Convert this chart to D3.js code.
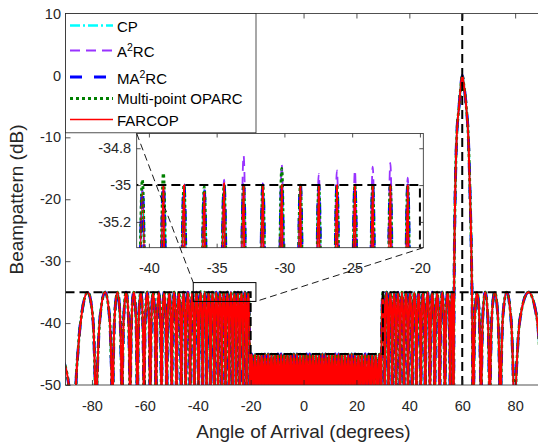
<!DOCTYPE html>
<html><head><meta charset="utf-8">
<script src="https://cdn.jsdelivr.net/npm/d3@7"></script>
<style>
body{margin:0;background:#fff;}
svg{display:block;font-family:"Liberation Sans",Arial,Helvetica,sans-serif;}
</style></head><body>
<svg id="c" width="538" height="445"></svg>
<script>
// ---------------- data ----------------
const mainXLim = [-90, 90];
const mainYLim = [-50, 10];
const xTicks = [-80, -60, -40, -20, 0, 20, 40, 60, 80];
const yTicks = [-50, -40, -30, -20, -10, 0, 10];
const insetXLim = [-40.9, -19.75];
const insetYLim = [-35.34, -34.72];
const insetXTicks = [-40, -35, -30, -25, -20];
const insetYTicks = [-35.2, -35, -34.8];

// angles (deg) of the pattern nulls, left to right
const lobeNulls = [-95, -87, -78.5,
  -72.24, -68.66, -65.58, -62.83, -60.31, -57.98, -55.79, -53.71, -51.74, -49.84,
  -48.02, -46.25, -44.55, -42.89, -41.28, -39.70, -38.17, -36.66, -35.18, -33.73,
  -32.30, -30.89, -29.51, -28.14, -26.79, -25.46, -24.14, -22.83, -21.54, -20.26,
  -18.99, -17.72, -16.47, -15.23, -13.99, -12.76, -11.53, -10.31, -9.10, -7.89,
  -6.68, -5.48, -4.28, -3.08, -1.88, -0.68, 0.52, 1.72, 2.91, 4.11,
  5.32, 6.52, 7.73, 8.94, 10.15, 11.37, 12.59, 13.83, 15.06, 16.31,
  17.56, 18.82, 20.09, 21.37, 22.66, 23.96, 25.28, 26.61, 27.96, 29.32,
  30.71, 32.11, 33.53, 34.98, 36.46, 37.96, 39.50, 41.07, 42.68, 44.33,
  46.03, 47.78, 49.59, 51.47, 53.44, 55.51,
  56.6, 64.2, 67.1, 70.4, 74.4, 79.7, 90.4];

// peak level (dB) of each lobe between consecutive nulls
const lobeLevels = [-46.3, -35, -35,
  -35, -35, -35, -35, -35, -35, -35, -35, -35, -35,
  -35, -35, -35, -35, -35, -35, -35, -35, -35, -35,
  -35, -35, -35, -35, -35, -35, -35, -35, -35,
  -45, -45, -45, -45, -45, -45, -45, -45, -45, -45,
  -45, -45, -45, -45, -45, -45, -45, -45, -45, -45,
  -45, -45, -45, -45, -45, -45, -45, -45, -45, -45,
  -45, -45, -45, -45, -45, -45, -45, -45, -45, -45,
  -35, -35, -35, -35, -35, -35, -35, -35, -35, -35,
  -35, -35, -35, -35, -35, -35, -35,
  0,
  -35, -35, -35, -35, -35];

// main lobe towards 60 deg
const mainlobeAngles = [56.8, 57.0, 57.3, 57.9, 58.8, 59.5, 60, 60.6, 61.5, 62.3, 63.0, 63.5, 63.9];
const mainlobeDb     = [-45, -30, -20, -10, -5, -1.5, 0, -1.5, -5, -10, -20, -30, -45];

// sidelobe peaks of each method inside the zoomed window (lobes from -41.28 deg on)
const insetLobeStart = -41.28;
const cpInsetPeaks     = [-35.03, -35.03, -35.03, -35.03, -35.03, -35.03, -35.03, -35.03, -35.03, -35.03, -35.03, -35.03, -35.03, -35.03, -35.03];
const a2rcInsetPeaks   = [-35.02, -35.02, -35.02, -35.02, -34.97, -34.84, -34.99, -34.89, -35.0, -34.94, -34.92, -34.92, -34.90, -34.88, -34.96];
const ma2rcInsetPeaks  = [-35.03, -35.0, -35.0, -35.03, -35.0, -35.0, -35.0, -35.0, -34.99, -35.0, -35.0, -35.0, -35.0, -35.0, -35.0];
const mpoparcInsetPeaks= [-34.97, -34.935, -35.0, -35.01, -35.0, -35.0, -35.0, -34.91, -35.0, -35.0, -35.0, -35.0, -35.0, -35.0, -35.0];
const farcopInsetPeaks = [-35.04, -35.0, -35.0, -35.04, -34.99, -35.0, -35.0, -35.0, -35.0, -35.0, -35.0, -35.0, -35.0, -35.0, -35.0];

// desired sidelobe mask and look direction
const maskAngles = [-90, -20, -20, 30, 30, 90];
const maskDb     = [-35, -35, -45, -45, -35, -35];
const lookAngle = 60;
const zoomBoxAngles = [-41.7, -18];
const zoomBoxDb = [-36.5, -33.46];

const legendLabels = ["CP", "A^{2}RC", "MA^{2}RC", "Multi-point OPARC", "FARCOP"];
const seriesInset = [cpInsetPeaks, a2rcInsetPeaks, ma2rcInsetPeaks, mpoparcInsetPeaks, farcopInsetPeaks];

// ---------------- styles ----------------
const seriesStyles = [
  {color: "#00ffff", dash: "10,3,2,3", width: 2.5},
  {color: "#9933ff", dash: "10,6", width: 1.8},
  {color: "#0000ff", dash: "12,12", width: 3},
  {color: "#008000", dash: "3,3", width: 2.8},
  {color: "#ff0000", dash: null, width: 2}
];
const PROFILE_U  = [0.04, 0.12, 0.25, 0.5, 0.75, 0.88, 0.96];
const PROFILE_DB = [-18, -8.7, -3, 0, -3, -8.7, -18];
const FLOOR = -90;
const axisColor = "#262626";

// ---------------- build series ----------------
const rad = Math.PI / 180;
function buildSeries(insetPeaks) {
  const pts = [];
  const i0 = lobeNulls.indexOf(insetLobeStart);
  for (let i = 0; i < lobeNulls.length; i++) {
    pts.push([lobeNulls[i], FLOOR]);
    if (i === lobeNulls.length - 1) break;
    const a = lobeNulls[i], b = lobeNulls[i + 1];
    let lvl = lobeLevels[i];
    if (i >= i0 && i < i0 + insetPeaks.length) lvl = insetPeaks[i - i0];
    if (lvl === 0) {
      mainlobeAngles.forEach((ang, k) => pts.push([ang, mainlobeDb[k]]));
      continue;
    }
    const useSin = a >= -90 && b <= 90;
    const sa = Math.sin(a * rad), sb = Math.sin(b * rad);
    PROFILE_U.forEach((u, k) => {
      const ang = useSin ? Math.asin(sa + u * (sb - sa)) / rad : a + u * (b - a);
      pts.push([ang, lvl + PROFILE_DB[k]]);
    });
  }
  return pts;
}
const seriesData = seriesInset.map(buildSeries);

// ---------------- drawing ----------------
const svg = d3.select("#c");
const M = {l: 65.5, t: 13.5, r: 541.6, b: 385};
const x = d3.scaleLinear().domain(mainXLim).range([M.l, M.r]);
const y = d3.scaleLinear().domain(mainYLim).range([M.b, M.t]);
const IN = {l: 136.7, t: 133.5, r: 423.3, b: 247.7};
const xi = d3.scaleLinear().domain(insetXLim).range([IN.l, IN.r]);
const yi = d3.scaleLinear().domain(insetYLim).range([IN.b, IN.t]);

const defs = svg.append("defs");
defs.append("clipPath").attr("id", "clipMain").append("rect")
  .attr("x", M.l).attr("y", M.t).attr("width", M.r - M.l).attr("height", M.b - M.t);
defs.append("clipPath").attr("id", "clipIn").append("rect")
  .attr("x", IN.l).attr("y", IN.t).attr("width", IN.r - IN.l).attr("height", IN.b - IN.t);

svg.append("rect").attr("width", 538).attr("height", 445).attr("fill", "#fff");

function drawSeries(g, xs, ys) {
  const line = d3.line().x(d => xs(d[0])).y(d => ys(d[1])).curve(d3.curveMonotoneX);
  seriesData.forEach((pts, i) => {
    const s = seriesStyles[i];
    const p = g.append("path").attr("d", line(pts)).attr("fill", "none")
      .attr("stroke", s.color).attr("stroke-width", s.width).attr("stroke-linejoin", "round");
    if (s.dash) p.attr("stroke-dasharray", s.dash);
  });
}
function drawMask(g, xs, ys, withLook) {
  const pts = maskAngles.map((a, i) => [a, maskDb[i]]);
  g.append("path").attr("d", d3.line().x(d => xs(d[0])).y(d => ys(d[1]))(pts))
    .attr("fill", "none").attr("stroke", "#000").attr("stroke-width", 2)
    .attr("stroke-dasharray", "9,5");
  if (withLook) {
    g.append("line").attr("x1", xs(lookAngle)).attr("x2", xs(lookAngle))
      .attr("y1", ys(mainYLim[0])).attr("y2", ys(mainYLim[1]))
      .attr("stroke", "#000").attr("stroke-width", 2).attr("stroke-dasharray", "9,5");
  }
}

// main plot
const gMain = svg.append("g").attr("clip-path", "url(#clipMain)");
drawSeries(gMain, x, y);
drawMask(gMain, x, y, true);

function styleAxis(g, fs) {
  g.select(".domain").remove();
  g.selectAll(".tick line").attr("stroke", axisColor).attr("stroke-width", 0.8);
  g.selectAll(".tick text").attr("fill", axisColor).style("font-size", fs + "px")
    .style("font-family", '"Liberation Sans",Arial,Helvetica,sans-serif');
}
const fmt = d => String(d);
styleAxis(svg.append("g").attr("transform", `translate(0,${M.b})`)
  .call(d3.axisBottom(x).tickValues(xTicks).tickFormat(fmt).tickSizeInner(-5).tickSizeOuter(0).tickPadding(15.5)), 14.5);
styleAxis(svg.append("g").attr("transform", `translate(0,${M.t})`)
  .call(d3.axisTop(x).tickValues(xTicks).tickFormat("").tickSizeInner(-5).tickSizeOuter(0)), 14.5);
styleAxis(svg.append("g").attr("transform", `translate(${M.l},0)`)
  .call(d3.axisLeft(y).tickValues(yTicks).tickFormat(fmt).tickSizeInner(-5).tickSizeOuter(0).tickPadding(4.5)), 14.5);
svg.append("rect").attr("x", M.l).attr("y", M.t).attr("width", M.r - M.l).attr("height", M.b - M.t)
  .attr("fill", "none").attr("stroke", axisColor).attr("stroke-width", 0.8);

svg.append("text").attr("x", 303.5).attr("y", 437.5).attr("text-anchor", "middle")
  .attr("fill", axisColor).style("font-size", "19px").text("Angle of Arrival (degrees)");
svg.append("text").attr("transform", "translate(23,199.5) rotate(-90)").attr("text-anchor", "middle")
  .attr("fill", axisColor).style("font-size", "19px").text("Beampattern (dB)");

// zoom box in main plot
svg.append("rect").attr("x", x(zoomBoxAngles[0])).attr("y", y(zoomBoxDb[1]))
  .attr("width", x(zoomBoxAngles[1]) - x(zoomBoxAngles[0]))
  .attr("height", y(zoomBoxDb[0]) - y(zoomBoxDb[1]))
  .attr("fill", "none").attr("stroke", "#000").attr("stroke-width", 1);

// legend
const lg = svg.append("g");
lg.append("rect").attr("x", 65.5).attr("y", 13.5).attr("width", 190.5).attr("height", 119.3)
  .attr("fill", "#fff").attr("stroke", axisColor).attr("stroke-width", 0.8);
const legLineY = [25.5, 50.5, 77, 98.5, 119.5];
const legTextY = [32.3, 57.3, 84, 104.2, 126];
legendLabels.forEach((lab, i) => {
  const s = seriesStyles[i];
  const ln = lg.append("line").attr("x1", 70).attr("x2", 113).attr("y1", legLineY[i]).attr("y2", legLineY[i])
    .style("stroke", s.color).attr("stroke-width", i === 4 ? 1.6 : s.width);
  if (s.dash) ln.attr("stroke-dasharray", s.dash);
  const t = lg.append("text").attr("x", 117).attr("y", legTextY[i]).attr("fill", "#000").style("font-size", "15px");
  const parts = lab.split(/\^\{(.*?)\}/);
  parts.forEach((p, k) => {
    if (!p) return;
    if (k % 2 === 1) t.append("tspan").attr("dy", -6.5).style("font-size", "10.5px").text(p);
    else t.append("tspan").attr("dy", k > 0 ? 6.5 : 0).text(p);
  });
});

// inset axes
const gIn = svg.append("g");
gIn.append("rect").attr("x", IN.l).attr("y", IN.t).attr("width", IN.r - IN.l).attr("height", IN.b - IN.t).attr("fill", "#fff");
const gInC = gIn.append("g").attr("clip-path", "url(#clipIn)");
drawSeries(gInC, xi, yi);
drawMask(gInC, xi, yi, false);
styleAxis(gIn.append("g").attr("transform", `translate(0,${IN.b})`)
  .call(d3.axisBottom(xi).tickValues(insetXTicks).tickFormat(fmt).tickSizeInner(-4).tickSizeOuter(0).tickPadding(15)), 14.5);
styleAxis(gIn.append("g").attr("transform", `translate(0,${IN.t})`)
  .call(d3.axisTop(xi).tickValues(insetXTicks).tickFormat("").tickSizeInner(-4).tickSizeOuter(0)), 14.5);
styleAxis(gIn.append("g").attr("transform", `translate(${IN.l},0)`)
  .call(d3.axisLeft(yi).tickValues(insetYTicks).tickFormat(fmt).tickSizeInner(-4).tickSizeOuter(0).tickPadding(5.5)), 14.5);
styleAxis(gIn.append("g").attr("transform", `translate(${IN.r},0)`)
  .call(d3.axisRight(yi).tickValues(insetYTicks).tickFormat("").tickSizeInner(-4).tickSizeOuter(0)), 14.5);
gIn.append("rect").attr("x", IN.l).attr("y", IN.t).attr("width", IN.r - IN.l).attr("height", IN.b - IN.t)
  .attr("fill", "none").attr("stroke", axisColor).attr("stroke-width", 0.8);

// connector lines between zoom box and inset
const conn = [
  [[IN.l, IN.t], [x(zoomBoxAngles[0]), y(zoomBoxDb[1])]],
  [[IN.r, IN.b], [x(zoomBoxAngles[1]), y(zoomBoxDb[0])]]
];
conn.forEach(c => svg.append("line").attr("x1", c[0][0]).attr("y1", c[0][1]).attr("x2", c[1][0]).attr("y2", c[1][1])
  .attr("stroke", "#000").attr("stroke-width", 0.9).attr("stroke-dasharray", "7,4"));
</script>
</body></html>
